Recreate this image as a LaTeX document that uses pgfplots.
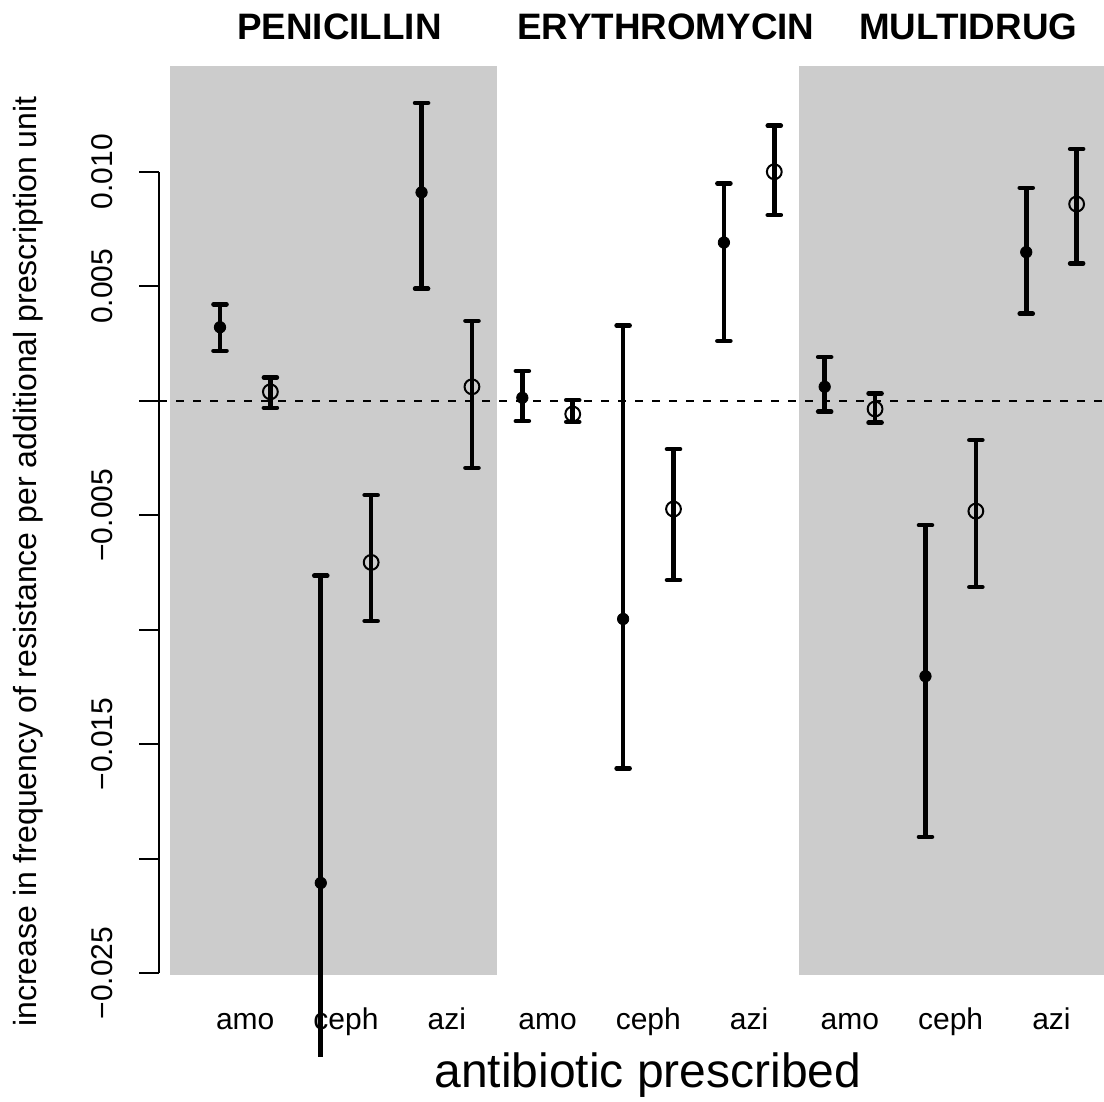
\documentclass[border=0pt]{standalone}
\usepackage{fontspec}
\setmainfont{Liberation Sans}
\usepackage{pgfplots}
\pgfplotsset{compat=1.18}
\definecolor{grayR}{RGB}{204,204,204}
\begin{document}
\begin{tikzpicture}
\useasboundingbox (0,0) rectangle (552pt,551pt);
\begin{axis}[
  at={(79.65pt,22.5pt)}, anchor=south west,
  scale only axis, width=472.35pt, height=495.5pt,
  xmin=-0.2046, xmax=18.543, ymin=-0.02866, ymax=0.01462,
  clip=false,
  axis x line*=bottom, axis y line*=left,
  x axis line style={draw=none}, y axis line style={draw=none},
  xtick={1.5,3.5,5.5,7.5,9.5,11.5,13.5,15.5,17.5},
  xticklabels={amo,ceph,azi,amo,ceph,azi,amo,ceph,azi},
  xtick style={draw=none},
  xticklabel style={anchor=base, yshift=23.5pt, font=\fontsize{15}{18}\selectfont},
  ytick={-0.025,-0.02,-0.015,-0.01,-0.005,0,0.005,0.01},
  yticklabels={−0.025,,−0.015,,−0.005,,0.005,0.010},
  scaled y ticks=false,
  ytick style={line width=1pt, black},
  tick align=outside, major tick length=10pt,
  yticklabel style={xshift=-13.5pt, rotate=90, anchor=base, font=\fontsize{15}{18}\selectfont},
  xlabel={antibiotic prescribed},
  every axis x label/.style={at={(axis description cs:0.5173,0)}, anchor=base, yshift=-15.5pt, font=\fontsize{24}{28}\selectfont},
  ylabel={increase in frequency of resistance per additional prescription unit},
  every axis y label/.style={at={(axis description cs:-0.1295,0.5)}, rotate=90, anchor=base, font=\fontsize{16}{19}\selectfont},
]
% shaded panels
\addplot[fill=grayR, draw=none, forget plot] coordinates {(0,-0.0251) (6.5,-0.0251) (6.5,0.01462) (0,0.01462)} -- cycle;
\addplot[fill=grayR, draw=none, forget plot] coordinates {(12.5,-0.0251) (18.543,-0.0251) (18.543,0.01462) (12.5,0.01462)} -- cycle;
% y axis line
\addplot[line width=1pt, black, forget plot] coordinates {(-0.2046,-0.025) (-0.2046,0.010)};
% zero line
\addplot[line width=0.9pt, black, dash pattern=on 4pt off 4.5pt, forget plot] coordinates {(-0.2046,0) (18.543,0)};
% error bars
\addplot[line width=2.3pt, black, unbounded coords=jump, mark=-, mark size=3.25pt, mark options={line width=2.3pt, line cap=round}, forget plot] coordinates {
(1,0.00218) (1,0.00421) (1,nan)
(2,-0.00031) (2,0.00102) (2,nan)
(4,-0.00962) (4,-0.00412) (4,nan)
(5,0.00489) (5,0.01301) (5,nan)
(6,-0.00293) (6,0.00349) (6,nan)
(7,-0.00089) (7,0.00130) (7,nan)
(8,-0.00092) (8,0.00003) (8,nan)
(9,-0.01605) (9,0.00328) (9,nan)
(10,-0.00783) (10,-0.00211) (10,nan)
(11,0.00261) (11,0.00949) (11,nan)
(12,0.00811) (12,0.01201) (12,nan)
(13,-0.00048) (13,0.00191) (13,nan)
(14,-0.00096) (14,0.00032) (14,nan)
(15,-0.01905) (15,-0.00543) (15,nan)
(16,-0.00814) (16,-0.00172) (16,nan)
(17,0.00380) (17,0.00930) (17,nan)
(18,0.00600) (18,0.01100)
};
\addplot[line width=2.3pt, black, mark=-, mark size=3.25pt, mark indices={1}, mark options={line width=2.3pt, line cap=round}, forget plot] coordinates {(3,-0.00764) (3,-0.02866)};
% filled points
\addplot[only marks, mark=*, mark size=2.85pt, mark options={fill=black, draw=black, line width=0.4pt}] coordinates {
(1,0.00321) (3,-0.02106) (5,0.00910) (7,0.00013) (9,-0.00953) (11,0.00691) (13,0.00061) (15,-0.01203) (17,0.00649)};
% open points
\addplot[only marks, mark=o, mark size=3.7pt, mark options={draw=black, line width=1pt}] coordinates {
(2,0.00039) (4,-0.00706) (6,0.00061) (8,-0.00058) (10,-0.00473) (12,0.01000) (14,-0.00036) (16,-0.00482) (18,0.00859)};
% panel titles
\node[anchor=base, yshift=13pt, font=\fontsize{18.4}{22}\selectfont\bfseries] at (axis cs:3.371,0.01462) {PENICILLIN};
\node[anchor=base, yshift=13pt, font=\fontsize{18.4}{22}\selectfont\bfseries] at (axis cs:9.849,0.01462) {ERYTHROMYCIN};
\node[anchor=base, yshift=13pt, font=\fontsize{18.4}{22}\selectfont\bfseries] at (axis cs:15.85,0.01462) {MULTIDRUG};
\end{axis}
\end{tikzpicture}
\end{document}
